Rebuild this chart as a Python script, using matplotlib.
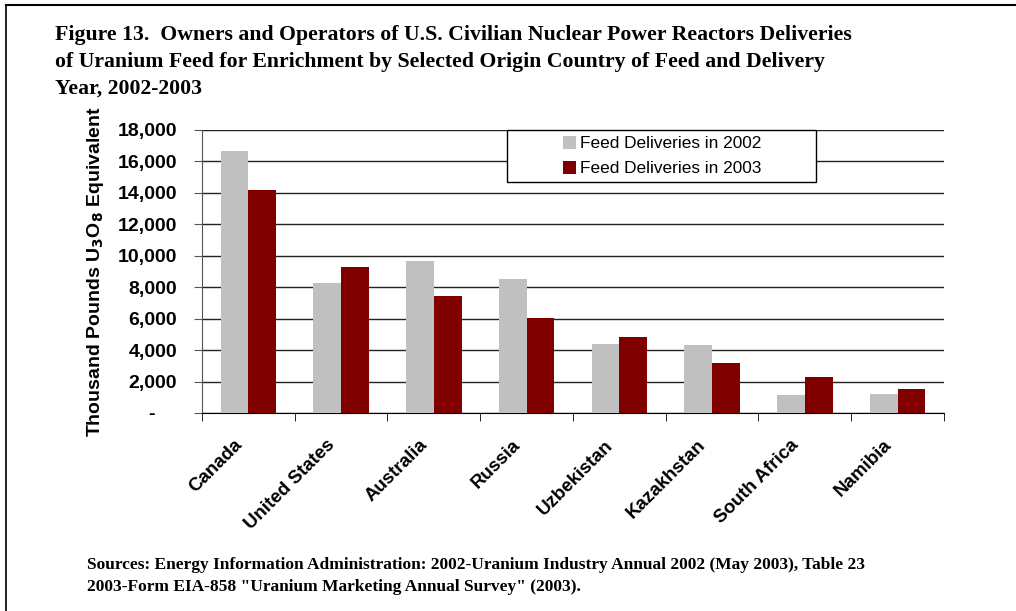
import numpy as np
import matplotlib.pyplot as plt
from matplotlib.lines import Line2D
from matplotlib.patches import Rectangle
from matplotlib.transforms import ScaledTranslation
from matplotlib.ticker import FuncFormatter, MultipleLocator

# data
countries = ['Canada', 'United States', 'Australia', 'Russia',
             'Uzbekistan', 'Kazakhstan', 'South Africa', 'Namibia']
feed_2002 = [16650, 8250, 9650, 8550, 4360, 4320, 1120, 1200]
feed_2003 = [14200, 9270, 7420, 6070, 4840, 3210, 2260, 1500]

sans = ['Liberation Sans', 'DejaVu Sans']
serif = ['Liberation Serif', 'DejaVu Serif']

fig = plt.figure(figsize=(10.16, 6.11), dpi=100)
ax = fig.add_axes([0.1988, 0.3241, 0.7303, 0.4632])

x = np.arange(len(countries))
w = 0.3
ax.bar(x - w/2, feed_2002, w, color='#C0C0C0', label='Feed Deliveries in 2002', zorder=3)
ax.bar(x + w/2, feed_2003, w, color='#800000', label='Feed Deliveries in 2003', zorder=3)

ax.set_xlim(-0.5, len(countries) - 0.5)
ax.set_ylim(0, 18000)
ax.yaxis.set_major_locator(MultipleLocator(2000))
ax.yaxis.set_major_formatter(FuncFormatter(lambda v, p: '-    ' if v == 0 else f'{v:,.0f}'))
ax.grid(axis='y', color='#222222', lw=1, zorder=0)

for s in ['top', 'right']:
    ax.spines[s].set_visible(False)
ax.spines['left'].set_color('#555555')
ax.spines['bottom'].set_color('black')

ax.set_xticks(x)
ax.set_xticklabels(countries, rotation=45, ha='right', rotation_mode='anchor',
                   fontsize=13.5, fontweight='bold', family=sans)
ax.tick_params(axis='x', which='major', length=0, pad=17)
shift = ScaledTranslation(-15/100, 0, fig.dpi_scale_trans)
for t in ax.get_xticklabels():
    t.set_transform(t.get_transform() + shift)
ax.set_xticks(np.arange(-0.5, len(countries)), minor=True)
ax.tick_params(axis='x', which='minor', length=6, direction='out', color='black')
ax.tick_params(axis='y', length=6, direction='out', color='#555555', pad=12)
for t in ax.get_yticklabels():
    t.set_fontsize(14)
    t.set_fontweight('bold')
    t.set_family(sans)

ax.set_ylabel('Thousand Pounds U$_\\mathbf{3}$O$_\\mathbf{8}$ Equivalent',
              fontsize=14, fontweight='bold', family=sans, labelpad=8)

# legend box with wide left margin
ax.add_patch(Rectangle((0.411, 0.816), 0.416, 0.184, transform=ax.transAxes,
                       facecolor='white', edgecolor='black', lw=1, clip_on=False, zorder=4))
leg = ax.legend(loc='upper left', bbox_to_anchor=(0.4865, 0.978), frameon=False,
                prop={'family': sans, 'size': 12.4},
                handlelength=0.75, handleheight=0.75, handletextpad=0.25,
                borderpad=0, labelspacing=0.55, borderaxespad=0)
leg.set_zorder(5)

fig.text(0.054, 0.959, 'Figure 13.  Owners and Operators of U.S. Civilian Nuclear Power Reactors Deliveries\n'
         'of Uranium Feed for Enrichment by Selected Origin Country of Feed and Delivery\n'
         'Year, 2002-2003', ha='left', va='top', fontsize=15.7, fontweight='bold',
         family=serif, linespacing=1.45)

fig.text(0.0856, 0.089, 'Sources: Energy Information Administration: 2002-Uranium Industry Annual 2002 (May 2003), Table 23\n'
         '2003-Form EIA-858 "Uranium Marketing Annual Survey" (2003).', ha='left', va='top',
         fontsize=12.5, fontweight='bold', family=serif, linespacing=1.5)

# frame lines at top and left
fig.add_artist(Line2D([0.006, 0.006], [0, 0.992], transform=fig.transFigure, color='black', lw=1.2))
fig.add_artist(Line2D([0.006, 1.0], [0.992, 0.992], transform=fig.transFigure, color='black', lw=1.5))

fig.savefig('out.png', dpi=100)
